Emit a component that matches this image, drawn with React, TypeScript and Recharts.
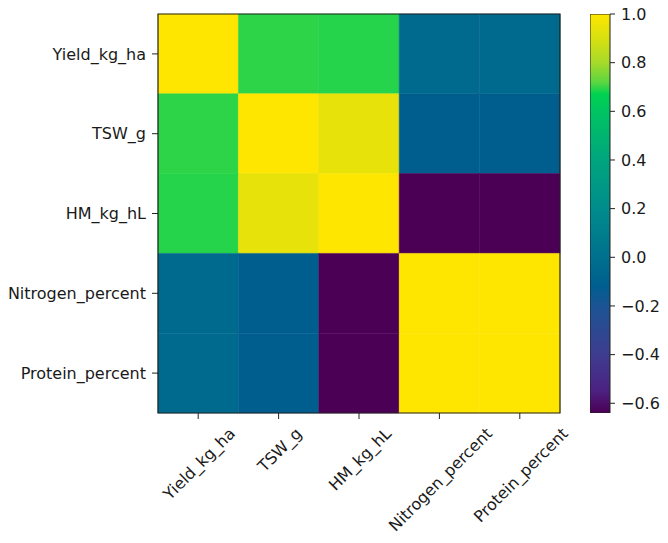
import React from 'react';
import { ScatterChart, Scatter, XAxis, YAxis, ReferenceArea, BarChart, Bar } from 'recharts';

const labels = ['Yield_kg_ha', 'TSW_g', 'HM_kg_hL', 'Nitrogen_percent', 'Protein_percent'];
const yieldRow = [1.0, 0.695, 0.69, -0.05, -0.05];
const tswRow = [0.695, 1.0, 0.94, -0.12, -0.12];
const hmRow = [0.69, 0.94, 1.0, -0.64, -0.64];
const nitrogenRow = [-0.05, -0.12, -0.64, 1.0, 1.0];
const proteinRow = [-0.05, -0.12, -0.64, 1.0, 1.0];
const matrix = [yieldRow, tswRow, hmRow, nitrogenRow, proteinRow];

const colorbarTicks = [-0.6, -0.4, -0.2, 0.0, 0.2, 0.4, 0.6, 0.8, 1.0];
const cbMin = -0.64;
const cbMax = 1.0;

const cmapStops: [number, string][] = [
  [-0.64, '#4b0055'],
  [-0.55, '#4c2180'],
  [-0.4, '#3e3d8f'],
  [-0.2, '#1b5494'],
  [-0.12, '#005e8e'],
  [0.0, '#00708e'],
  [0.2, '#008c8c'],
  [0.4, '#00a57e'],
  [0.6, '#00c462'],
  [0.67, '#00d250'],
  [0.72, '#5cd640'],
  [0.8, '#a6da2a'],
  [0.9, '#d8e010'],
  [1.0, '#fee600'],
];

const hex2rgb = (h: string) => [1, 3, 5].map((i) => parseInt(h.slice(i, i + 2), 16));
const cmap = (v: number) => {
  if (v <= cmapStops[0][0]) return cmapStops[0][1];
  for (let i = 1; i < cmapStops.length; i++) {
    const [v1, c1] = cmapStops[i];
    if (v <= v1) {
      const [v0, c0] = cmapStops[i - 1];
      const t = (v - v0) / (v1 - v0);
      const a = hex2rgb(c0);
      const b = hex2rgb(c1);
      const r = a.map((x, k) => Math.round(x + (b[k] - x) * t));
      return `rgb(${r[0]},${r[1]},${r[2]})`;
    }
  }
  return cmapStops[cmapStops.length - 1][1];
};

const cells = matrix.flatMap((row, r) => row.map((v, c) => ({ x: c, y: r, v })));

const FONT = "'DejaVu Sans', sans-serif";
const FS = 16;
const TXT = '#1a1a1a';

let ctx: CanvasRenderingContext2D | null = null;
const measure = (s: string) => {
  if (!ctx) ctx = document.createElement('canvas').getContext('2d');
  if (!ctx) return s.length * 9;
  ctx.font = `${FS}px 'DejaVu Sans'`;
  return ctx.measureText(s).width;
};

const XTick = (props: any) => {
  const { x, y, payload } = props;
  const label = labels[payload.value] ?? '';
  const L = measure(label);
  const A = 0.76 * FS;
  const D = 0.24 * FS;
  const top = y + 7;
  const x0 = x + 2 + (0.7071 * (A - D)) / 2;
  const y0 = top + 0.7071 * (L / 2 + A);
  return (
    <text
      x={x0}
      y={y0}
      textAnchor="middle"
      transform={`rotate(-45 ${x0} ${y0})`}
      fontSize={FS}
      fontFamily={FONT}
      fill={TXT}
    >
      {label}
    </text>
  );
};

const fmt = (v: number) => (v < 0 ? '\u2212' + Math.abs(v).toFixed(1) : v.toFixed(1));

const cbData = [{ name: 'cb', range: [cbMin, cbMax] }];

export default function App() {
  return (
    <div style={{ position: 'relative', width: 660, height: 535 }}>
      <svg width={0} height={0} style={{ position: 'absolute' }}>
        <defs>
          <linearGradient id="cbGrad" x1="0" y1="1" x2="0" y2="0">
            {cmapStops.map(([v, c], i) => (
              <stop key={i} offset={(v - cbMin) / (cbMax - cbMin)} stopColor={c} />
            ))}
          </linearGradient>
        </defs>
      </svg>
      <ScatterChart width={660} height={535} margin={{ top: 6, right: 108, bottom: 0, left: 0 }}>
        <XAxis
          type="number"
          dataKey="x"
          domain={[-0.5, 4.5]}
          ticks={[0, 1, 2, 3, 4]}
          height={130}
          tickSize={6}
          tickMargin={0}
          axisLine={false}
          tickLine={{ stroke: '#222', strokeWidth: 1 }}
          tick={<XTick />}
          interval={0}
        />
        <YAxis
          type="number"
          dataKey="y"
          domain={[-0.5, 4.5]}
          reversed
          ticks={[0, 1, 2, 3, 4]}
          width={150}
          tickSize={6}
          tickMargin={6}
          axisLine={false}
          tickLine={{ stroke: '#222', strokeWidth: 1 }}
          tickFormatter={(v: number) => labels[v] ?? ''}
          tick={{ fontSize: FS, fill: TXT, fontFamily: FONT }}
          interval={0}
        />
        {cells.map((c, i) => (
          <ReferenceArea
            key={i}
            x1={c.x - 0.5}
            x2={c.x + 0.5}
            y1={c.y - 0.5}
            y2={c.y + 0.5}
            fill={cmap(c.v)}
            fillOpacity={1}
            stroke={cmap(c.v)}
            strokeWidth={0.5}
            ifOverflow="visible"
          />
        ))}
        <ReferenceArea
          x1={-0.5}
          x2={4.5}
          y1={-0.5}
          y2={4.5}
          fill="none"
          fillOpacity={0}
          stroke="#222"
          strokeWidth={1.2}
          ifOverflow="visible"
        />
        <Scatter data={cells} isAnimationActive={false} shape={() => <g />} />
      </ScatterChart>
      <div style={{ position: 'absolute', left: 582, top: -8 }}>
        <BarChart
          width={78}
          height={543}
          data={cbData}
          margin={{ top: 14, right: 0, bottom: 130, left: 0 }}
          barCategoryGap={0}
        >
          <XAxis dataKey="name" hide />
          <YAxis
            orientation="right"
            type="number"
            domain={[cbMin, cbMax]}
            allowDataOverflow
            ticks={colorbarTicks}
            width={58}
            tickSize={5}
            tickMargin={6}
            axisLine={false}
            tickLine={{ stroke: '#222', strokeWidth: 1 }}
            tickFormatter={fmt}
            tick={{ fontSize: FS, fill: TXT, fontFamily: FONT, textAnchor: 'start' }}
            interval={0}
          />
          <Bar
            dataKey="range"
            fill="url(#cbGrad)"
            stroke="#222"
            strokeWidth={1}
            isAnimationActive={false}
          />
        </BarChart>
      </div>
    </div>
  );
}
